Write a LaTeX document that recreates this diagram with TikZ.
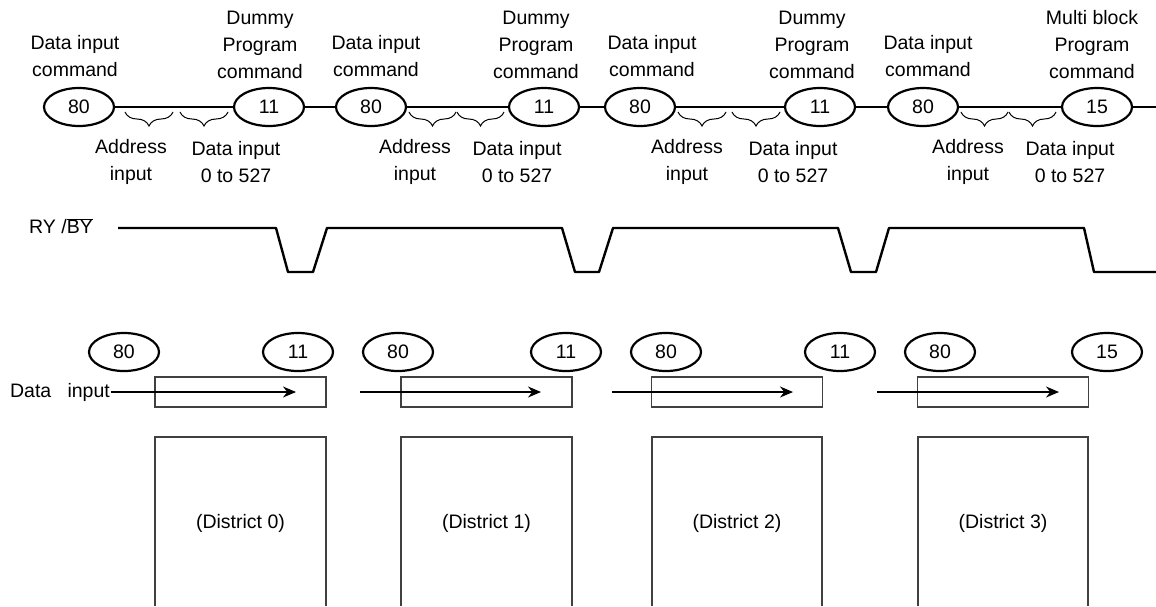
\documentclass[tikz,border=0pt]{standalone}
\usepackage{fontspec}
\setmainfont{Liberation Sans}
\usetikzlibrary{shapes.geometric,arrows.meta,decorations.pathreplacing}
\begin{document}
\begin{tikzpicture}[x=1pt,y=-1pt,every node/.style={font=\fontsize{19.5}{27}\selectfont},
cmd/.style={draw,ellipse,line width=2.2pt,minimum width=70,minimum height=38,inner sep=0pt},
lbl/.style={align=center},
bus/.style={line width=2.4pt},
sig/.style={line width=2.4pt,line join=round},
buf/.style={draw=black!75,line width=1.2pt,minimum width=171,minimum height=30,inner sep=0pt},
blk/.style={draw=black!75,line width=1.2pt},
flow/.style={line width=1.3pt,-{Stealth[length=13pt,width=11pt]}},
brc/.style={decorate,decoration={brace,mirror,amplitude=14pt},line width=1pt}]
\useasboundingbox (0,0) rectangle (1156,606);
\node[cmd] (d0) at (79,107) {80};
\node[cmd] (p0) at (269,107) {11};
\node[cmd] (d1) at (371,107) {80};
\node[cmd] (p1) at (544,107) {11};
\node[cmd] (d2) at (640,107) {80};
\node[cmd] (p2) at (820,107) {11};
\node[cmd] (d3) at (923,107) {80};
\node[cmd] (p3) at (1097,107) {15};
\coordinate (busend) at (1156,107);
\draw[bus] (d0)--(p0)--(d1)--(p1)--(d2)--(p2)--(d3)--(p3)--(busend);
\node[lbl] (ld0) at (75,56) {Data input\\command};
\node[lbl] (lp0) at (260,45) {Dummy\\Program\\command};
\node[lbl] (ld1) at (376,56) {Data input\\command};
\node[lbl] (lp1) at (536,45) {Dummy\\Program\\command};
\node[lbl] (ld2) at (652,56) {Data input\\command};
\node[lbl] (lp2) at (812,45) {Dummy\\Program\\command};
\node[lbl] (ld3) at (928,56) {Data input\\command};
\node[lbl] (lp3) at (1092,45) {Multi block\\Program\\command};
\draw[brc] (125,112)--(173,112);
\draw[brc] (180,112)--(228,112);
\draw[brc] (409,112)--(456,112);
\draw[brc] (457,112)--(504,112);
\draw[brc] (678,112)--(726,112);
\draw[brc] (732,112)--(780,112);
\draw[brc] (961,112)--(1008,112);
\draw[brc] (1009,112)--(1056,112);
\node[lbl] (la0) at (131,162) {Address\\input};
\node[lbl] (lw0) at (236,162) {Data input\\0 to 527};
\node[lbl] (la1) at (415,162) {Address\\input};
\node[lbl] (lw1) at (517,162) {Data input\\0 to 527};
\node[lbl] (la2) at (687,162) {Address\\input};
\node[lbl] (lw2) at (793,162) {Data input\\0 to 527};
\node[lbl] (la3) at (968,162) {Address\\input};
\node[lbl] (lw3) at (1070,162) {Data input\\0 to 527};
\node (ry) at (61,226) {RY /$\overline{\mbox{BY}}$};
\draw[sig] (118,228)--(276,228)--(288,272)--(313,272)--(327,228)--(562,228)--(575,272)--(599,272)--(613,228)
 --(838,228)--(851,272)--(876,272)--(889,228)--(1084,228)--(1094,272)--(1156,272);
\node[cmd] (bd0) at (124,352) {80};
\node[cmd] (bp0) at (298,352) {11};
\node[cmd] (bd1) at (398,352) {80};
\node[cmd] (bp1) at (566,352) {11};
\node[cmd] (bd2) at (666,352) {80};
\node[cmd] (bp2) at (840,352) {11};
\node[cmd] (bd3) at (940,352) {80};
\node[cmd] (bp3) at (1107,352) {15};
\node[buf] (buf0) at (240.5,392) {};
\node[buf] (buf1) at (486.5,392) {};
\node[buf] (buf2) at (737,392) {};
\node[buf] (buf3) at (1003,392) {};
\node[inner sep=1pt] (din) at (60,392) {Data\ \ \ input};
\coordinate (tip0) at (296,392);
\coordinate (src1) at (360,392);
\coordinate (tip1) at (541,392);
\coordinate (src2) at (612,392);
\coordinate (tip2) at (793,392);
\coordinate (src3) at (877,392);
\coordinate (tip3) at (1059,392);
\draw[flow] (din)--(tip0);
\draw[flow] (src1)--(tip1);
\draw[flow] (src2)--(tip2);
\draw[flow] (src3)--(tip3);
\draw[blk] (155,606)|-(326,437)--(326,606);
\draw[blk] (401,606)|-(572,437)--(572,606);
\draw[blk] (652,606)|-(822,437)--(822,606);
\draw[blk] (918,606)|-(1088,437)--(1088,606);
\node (dist0) at (240.5,523) {(District 0)};
\node (dist1) at (486.5,523) {(District 1)};
\node (dist2) at (737,523) {(District 2)};
\node (dist3) at (1003,523) {(District 3)};
\end{tikzpicture}
\end{document}
